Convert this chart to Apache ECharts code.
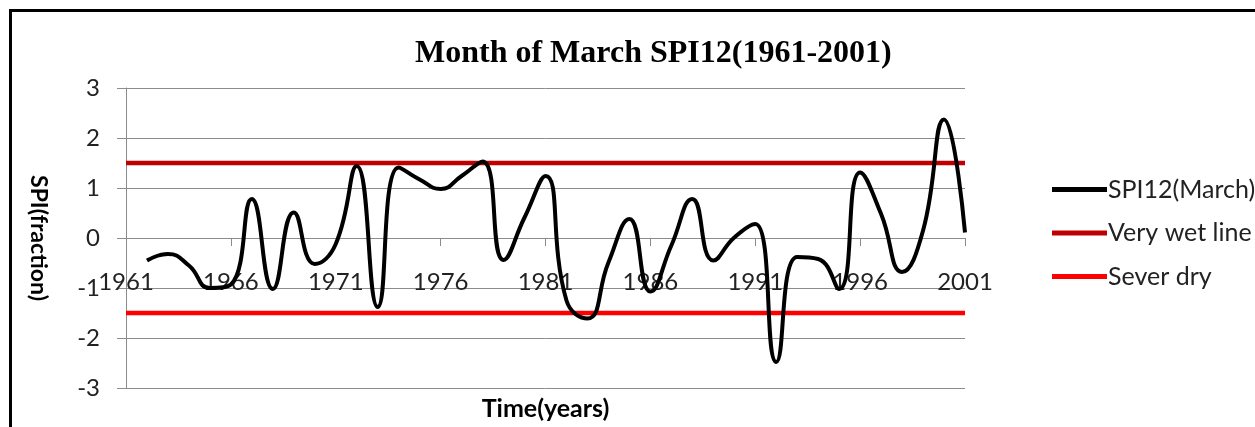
<!DOCTYPE html>
<html>
<head>
<meta charset="utf-8">
<script src="https://cdn.jsdelivr.net/npm/echarts@6/dist/echarts.min.js"></script>
<style>
    html, body {margin: 0; padding: 0; background: #fff;}
    #chart {width: 1255px; height: 427px;}
    .frame {position: absolute; left: 9px; top: 9px; width: 1300px; height: 500px;
        border-top: 3px solid #000; border-left: 3px solid #000;}
</style>
</head>
<body>
<div id="chart"></div>
<div class="frame"></div>
<script>
// years on the category axis
const years = [];
for (let y = 1961; y <= 2001; y++) years.push(String(y));

// SPI12 for March, 1962-2001 (1961 has no value)
const spiMarch = ['-',
    -0.45, -0.32, -0.55, -1.0, -0.93, 0.78, -1.02, 0.51, -0.52, -0.12,
    1.44, -1.38, 1.41, 1.17, 0.98, 1.24, 1.53, -0.44, 0.41, 1.24,
    -1.25, -1.61, -0.49, 0.38, -1.07, -0.15, 0.78, -0.45, 0.01, 0.28,
    -2.48, -0.38, -0.42, -1.02, 1.31, 0.48, -0.68, 0.15, 2.37, 0.11];

const veryWetLevel = 1.5;
const severDryLevel = -1.5;
const veryWet = years.map(() => veryWetLevel);
const severDry = years.map(() => severDryLevel);

const yTicks = [-3, -2, -1, 0, 1, 2, 3];

const font = 'Lato, "Open Sans", sans-serif';
const gray = '#8c8c8c';

let chart = echarts.init(document.getElementById('chart'));

chart.setOption({
    animation: false,
    title: {
        text: 'Month of March SPI12(1961-2001)',
        left: 410,
        top: 33,
        textStyle: {
            fontFamily: '"Liberation Serif", "Times New Roman", serif',
            fontWeight: 'bold',
            fontSize: 32,
            color: '#000'
        }
    },
    legend: {
        orient: 'vertical',
        left: 1047,
        top: 172,
        icon: 'rect',
        itemWidth: 55,
        itemHeight: 5,
        itemGap: 18.5,
        textStyle: {fontFamily: font, fontSize: 25, color: '#222', lineHeight: 25, padding: [0, 0, 0, -4]},
        data: ['SPI12(March)', 'Very wet line', 'Sever dry']
    },
    grid: {
        left: 126,
        right: 290,
        top: 88,
        bottom: 39,
        containLabel: false,
        outerBoundsMode: 'none'
    },
    xAxis: {
        type: 'category',
        data: years,
        boundaryGap: false,
        name: 'Time(years)',
        nameLocation: 'middle',
        nameGap: 8,
        nameTextStyle: {fontFamily: font, fontSize: 25, fontWeight: 'bold', color: '#000'},
        axisLine: {onZero: true, lineStyle: {color: gray, width: 1}},
        axisTick: {interval: 4, length: 8, lineStyle: {color: gray}},
        axisLabel: {interval: 4, margin: -118, fontFamily: font, fontSize: 24, color: '#222'},
        splitLine: {show: false}
    },
    yAxis: {
        type: 'value',
        min: yTicks[0],
        max: yTicks[yTicks.length - 1],
        interval: 1,
        name: 'SPI(fraction)',
        nameLocation: 'middle',
        nameRotate: -90,
        nameGap: 76,
        nameTextStyle: {fontFamily: font, fontSize: 23, fontWeight: 'bold', color: '#000'},
        axisLine: {show: true, lineStyle: {color: gray, width: 1}},
        axisTick: {show: true, length: 9, lineStyle: {color: gray}},
        axisLabel: {margin: 26, fontFamily: font, fontSize: 24, color: '#222'},
        splitLine: {lineStyle: {color: gray, width: 1}}
    },
    series: [
        {
            name: 'Very wet line',
            type: 'line',
            data: veryWet,
            symbol: 'none',
            z: 2,
            lineStyle: {color: '#c00000', width: 4.5},
            itemStyle: {color: '#c00000'}
        },
        {
            name: 'Sever dry',
            type: 'line',
            data: severDry,
            symbol: 'none',
            z: 2,
            lineStyle: {color: '#ff0000', width: 4.5},
            itemStyle: {color: '#ff0000'}
        },
        {
            name: 'SPI12(March)',
            type: 'line',
            data: spiMarch,
            symbol: 'none',
            smooth: 0.5,
            z: 3,
            lineStyle: {color: '#000', width: 4},
            itemStyle: {color: '#000'}
        }
    ]
});
</script>
</body>
</html>
